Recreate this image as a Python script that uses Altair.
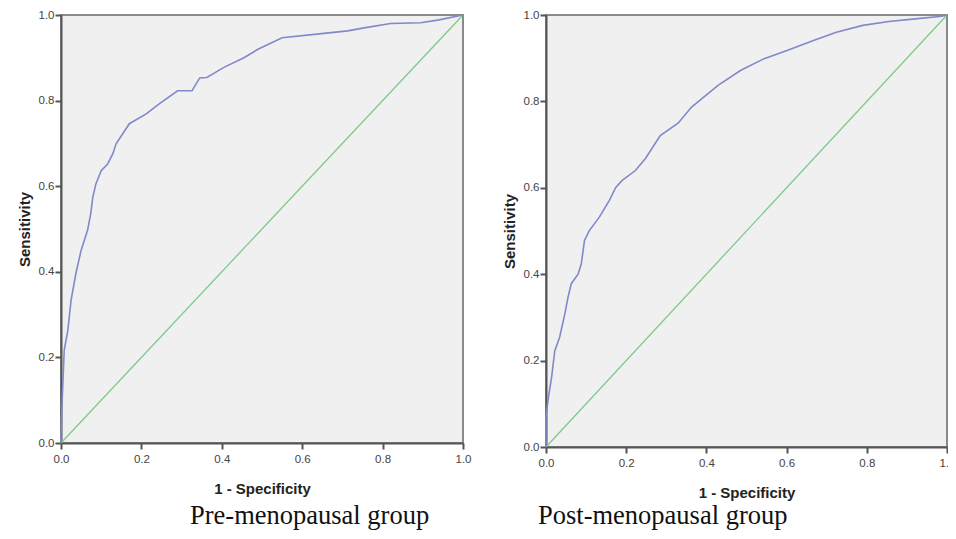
import altair as alt
import pandas as pd

# Pre-menopausal ROC curve (1 - specificity, sensitivity)
pre_fx = [0, 0, 0.002, 0.008, 0.017, 0.025, 0.037, 0.05, 0.066, 0.074,
          0.079, 0.087, 0.1, 0.116, 0.129, 0.137, 0.17, 0.212, 0.245, 0.29,
          0.326, 0.345, 0.363, 0.404, 0.455, 0.49, 0.55, 0.654, 0.713, 0.754,
          0.82, 0.895, 0.937, 1.0]
pre_s = [0, 0.015, 0.077, 0.217, 0.263, 0.333, 0.396, 0.45, 0.497, 0.536,
         0.574, 0.606, 0.636, 0.652, 0.676, 0.699, 0.746, 0.769, 0.793, 0.823,
         0.823, 0.853, 0.854, 0.877, 0.9, 0.92, 0.947, 0.957, 0.963, 0.97,
         0.98, 0.982, 0.988, 1.0]

# Post-menopausal ROC curve
post_fx = [0, 0, 0.006, 0.014, 0.022, 0.034, 0.047, 0.055, 0.063, 0.08,
           0.088, 0.096, 0.108, 0.133, 0.158, 0.174, 0.19, 0.223, 0.248, 0.285,
           0.33, 0.363, 0.429, 0.486, 0.544, 0.601, 0.667, 0.724, 0.79, 0.855,
           0.921, 0.987, 1.0]
post_s = [0, 0.07, 0.115, 0.162, 0.223, 0.254, 0.308, 0.347, 0.378, 0.4,
          0.424, 0.478, 0.501, 0.532, 0.571, 0.601, 0.617, 0.64, 0.668, 0.721,
          0.75, 0.787, 0.837, 0.872, 0.899, 0.918, 0.941, 0.96, 0.976, 0.985,
          0.991, 0.997, 1.0]

# Reference diagonal
diag_x = [0.0, 1.0]
diag_y = [0.0, 1.0]

ticks = [0.0, 0.2, 0.4, 0.6, 0.8, 1.0]
subtitles = ["Pre-menopausal group", "Post-menopausal group"]

BLUE = "#8089c9"
GREEN = "#7ccb8c"


def panel(fx, s, w, h, subtitle, dx, off):
    df = pd.DataFrame({"fx": fx, "s": s, "i": list(range(len(fx)))})
    dg = pd.DataFrame({"fx": diag_x, "s": diag_y})
    xenc = alt.X("fx:Q",
                 scale=alt.Scale(domain=[0, 1], nice=False, zero=False),
                 axis=alt.Axis(values=ticks, format=".1f", title="1 - Specificity"))
    yenc = alt.Y("s:Q",
                 scale=alt.Scale(domain=[0, 1], nice=False, zero=False),
                 axis=alt.Axis(values=ticks, format=".1f", title="Sensitivity"))
    diag = alt.Chart(dg).mark_line(color=GREEN, strokeWidth=1.3).encode(x=xenc, y=yenc)
    roc = alt.Chart(df).mark_line(color=BLUE, strokeWidth=1.6).encode(
        x=xenc, y=yenc, order="i:Q")
    return alt.layer(diag, roc).properties(
        width=w, height=h,
        title=alt.TitleParams(subtitle, orient="bottom", anchor="start", frame="group",
                              dx=dx, offset=off, font="Liberation Serif", fontSize=26.5,
                              fontWeight="normal", color="#111"))


left = panel(pre_fx, pre_s, 402, 428, subtitles[0], 129, 6)
right = panel(post_fx, post_s, 401, 432, subtitles[1], -8, 2)

chart = alt.hconcat(left, right, spacing=29).properties(
    padding={"left": 8, "top": 0, "right": -8, "bottom": 1}
).configure_view(
    stroke="#8a8a8a", strokeWidth=2, fill="#f0f0f0"
).configure_axis(
    grid=False, domainColor="#555", domainWidth=2, tickColor="#555", tickWidth=2,
    tickSize=6, labelFont="Liberation Sans", labelFontSize=11.5, labelColor="#444",
    labelFlush=False, labelOverlap=False,
    titleFont="Liberation Sans", titleFontSize=15, titleFontWeight="bold",
    titleColor="#222"
).configure_axisX(
    labelPadding=4, titlePadding=17
).configure_axisY(
    labelPadding=1, titlePadding=6
).configure_title(anchor="start")

chart.save("out.html", embed_options={"renderer": "svg", "actions": False})
